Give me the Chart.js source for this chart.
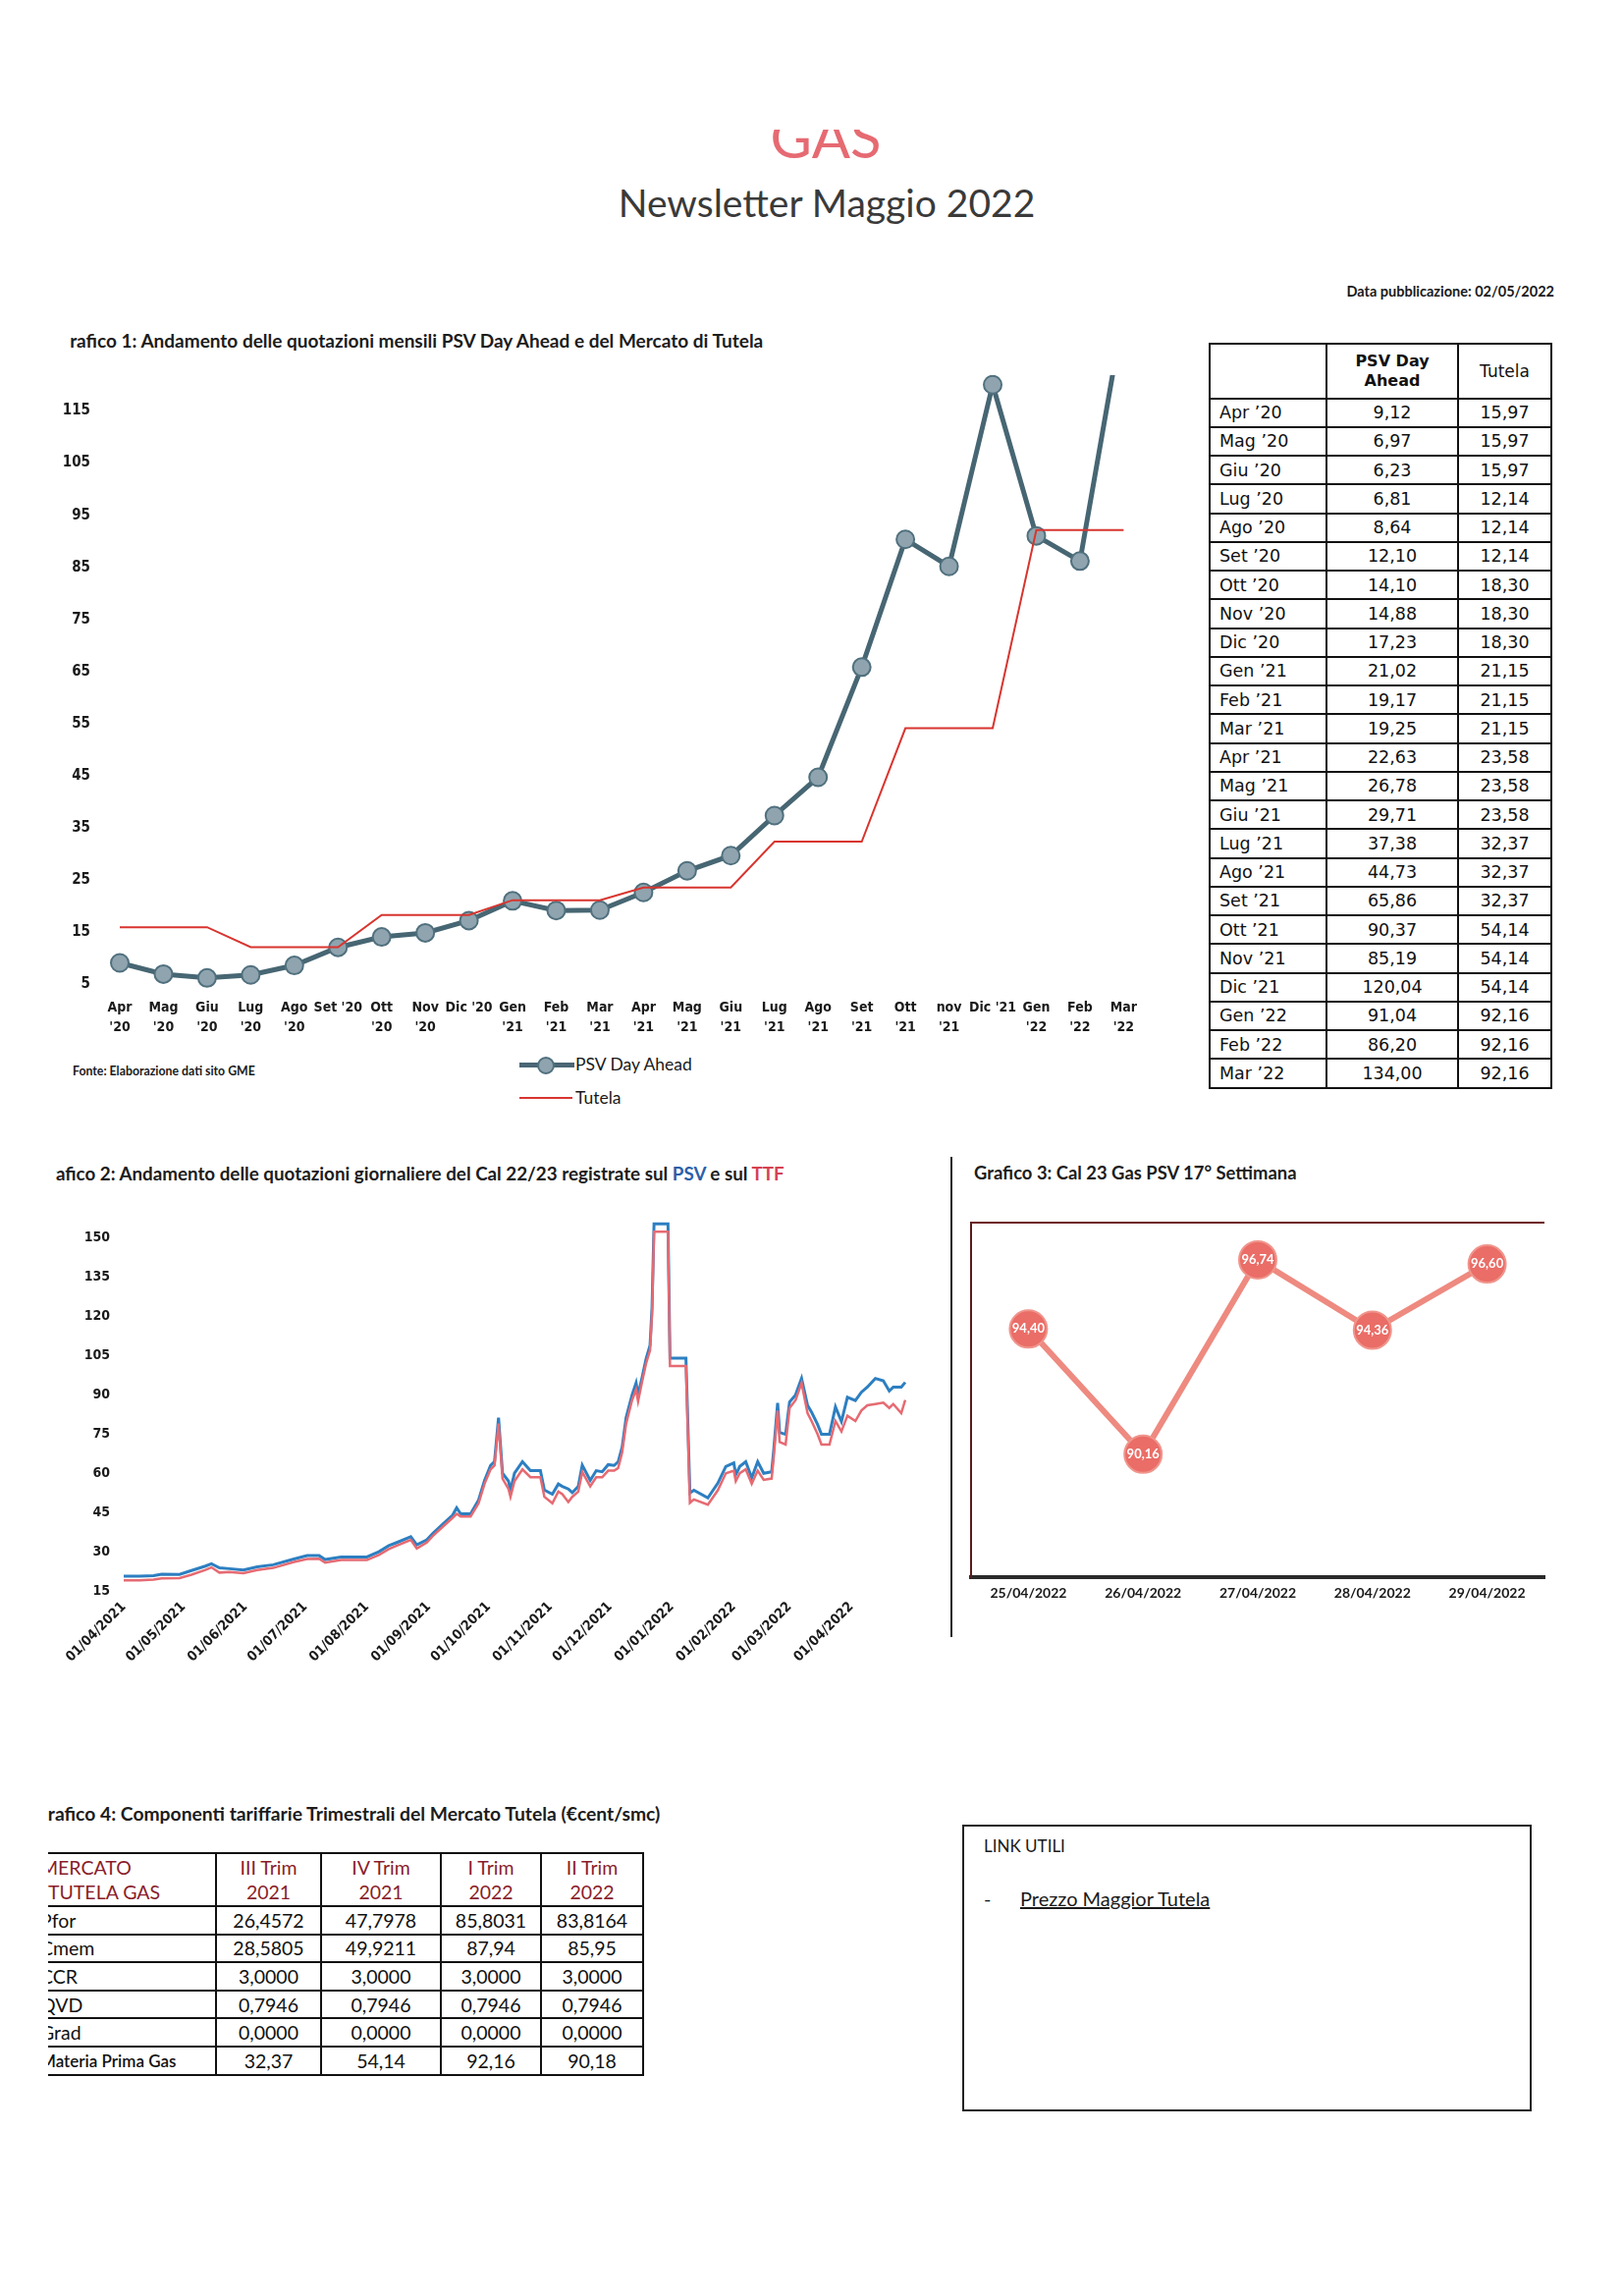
<!DOCTYPE html>
<html>
  <head>
    <meta charset="utf-8">
    <style type="text/css">
    body { margin: 0; background: #fff; }
    .page { position: relative; width: 1653px; height: 2338px; overflow: hidden; font-family: Lato, 'Noto Sans', sans-serif; color: #1a1a1a; }
    .abs { position: absolute; }
    .cut { position: absolute; overflow: hidden; white-space: nowrap; }
    .ttl { font-weight: 700; font-size: 19px; line-height: 23px; color: #1c1c1c; }
    canvas { position: absolute; }
    #tab1 { position: absolute; left: 1231px; top: 349px; border-collapse: collapse; font-family: 'DejaVu Sans', Verdana, sans-serif; font-size: 17.5px; color: #111; }
    #tab1 td, #tab1 th { border: 2px solid #111; padding: 0; height: 27.26px; }
    #tab1 th { font-weight: 600; font-size: 16px; line-height: 20px; height: 53.5px; }
    #tab1 td.m { text-align: left; padding-left: 9px; }
    #tab1 td.v { text-align: center; }
    #tab4 { position: absolute; left: 49px; top: 1886px; border-collapse: collapse; font-family: Lato, sans-serif; font-size: 19.5px; color: #111; }
    #tab4 td, #tab4 th { border: 2px solid #111; padding: 0; height: 26.6px; text-align: center; }
    #tab4 th { font-weight: 400; color: #8a1d2a; line-height: 25px; height: 52px; }
    #tab4 td:first-child, #tab4 th:first-child { border-left: none; text-align: left; }
    #tab4 .lc { overflow: hidden; white-space: nowrap; }
    #tab4 .lc span { margin-left: -8px; }
    </style>
  </head>
  <body>
    <script src="https://cdn.jsdelivr.net/npm/chart.js@4.4.1/dist/chart.umd.min.js"></script>

    <div class="page">
      <!-- intestazione -->
      <div class="cut" style="left:741px; top:132px; width:200px; height:29px;">
        <div class="abs" style="left:0; top:-22px; width:200px; text-align:center; font-size:58px; line-height:58px; color:#e66a72;">GAS</div>
      </div>
      <div class="abs" style="left:342px; top:183px; width:1000px; text-align:center; font-size:39px; line-height:47px; color:#3a3a3a;">Newsletter Maggio 2022</div>
      <div class="abs" style="left:1185px; top:288px; width:398px; text-align:right; font-size:14.5px; font-weight:700; white-space:nowrap;">Data pubblicazione: 02/05/2022</div>

      <!-- grafico 1 -->
      <div class="cut ttl" style="left:71px; top:335px; width:820px; height:26px;"><span style="margin-left:-13.5px;">Grafico 1: Andamento delle quotazioni mensili PSV Day Ahead e del Mercato di Tutela</span></div>
      <canvas id="c1" width="1122" height="717" style="left:39px; top:345px;"></canvas>
      <div class="abs" style="left:74px; top:1083px; font-size:12.3px; font-weight:700;">Fonte: Elaborazione dati sito GME</div>
      <div class="abs" style="left:529px; top:1082px; width:56px; height:5px; background:#4a6674;"></div>
      <div class="abs" style="left:547px; top:1076px; width:14px; height:14px; border-radius:50%; background:#8fa4af; border:2px solid #50707e;"></div>
      <div class="abs" style="left:586px; top:1073px; font-size:17.5px;">PSV Day Ahead</div>
      <div class="abs" style="left:529px; top:1117px; width:54px; height:2px; background:#d8352f;"></div>
      <div class="abs" style="left:586px; top:1107px; font-size:17.5px;">Tutela</div>
      <table id="tab1"></table>

      <!-- grafico 2 -->
      <div class="cut ttl" style="left:57px; top:1183px; width:760px; height:26px; font-size:18.8px;"><span style="margin-left:-20.5px;">Grafico 2: Andamento delle quotazioni giornaliere del Cal 22/23 registrate sul <span style="color:#2c5fa8;">PSV</span> e sul <span style="color:#d6414e;">TTF</span></span></div>
      <canvas id="c2" width="884" height="493" style="left:50px; top:1217px;"></canvas>

      <!-- grafico 3 -->
      <div class="abs" style="left:968px; top:1178px; width:2px; height:489px; background:#222;"></div>
      <div class="abs ttl" style="left:992px; top:1183px; font-size:18.4px;">Grafico 3: Cal 23 Gas PSV 17° Settimana</div>
      <canvas id="c3" width="610" height="417" style="left:981px; top:1230px;"></canvas>

      <!-- grafico 4 -->
      <div class="cut ttl" style="left:49px; top:1835px; width:720px; height:26px; font-size:19.3px;"><span style="margin-left:-14px;">Grafico 4: Componenti tariffarie Trimestrali del Mercato Tutela (€cent/smc)</span></div>
      <table id="tab4"></table>

      <!-- link utili -->
      <div class="abs" style="left:980px; top:1858px; width:576px; height:288px; border:2px solid #222;"></div>
      <div class="abs" style="left:1002px; top:1869px; font-size:17px;">LINK UTILI</div>
      <div class="abs" style="left:1002px; top:1921px; font-size:20px;">-</div>
      <div class="abs" style="left:1039px; top:1921px; font-size:20px; text-decoration:underline;">Prezzo Maggior Tutela</div>
    </div>

    <script>
      /* grafico 1 - quotazioni mensili */
      const monthRows = ["Apr ’20", "Mag ’20", "Giu ’20", "Lug ’20", "Ago ’20", "Set ’20", "Ott ’20", "Nov ’20", "Dic ’20",
        "Gen ’21", "Feb ’21", "Mar ’21", "Apr ’21", "Mag ’21", "Giu ’21", "Lug ’21", "Ago ’21", "Set ’21", "Ott ’21",
        "Nov ’21", "Dic ’21", "Gen ’22", "Feb ’22", "Mar ’22"];
      const c1TickLabels = [["Apr", "'20"], ["Mag", "'20"], ["Giu", "'20"], ["Lug", "'20"], ["Ago", "'20"], ["Set '20"],
        ["Ott", "'20"], ["Nov", "'20"], ["Dic '20"], ["Gen", "'21"], ["Feb", "'21"], ["Mar", "'21"], ["Apr", "'21"],
        ["Mag", "'21"], ["Giu", "'21"], ["Lug", "'21"], ["Ago", "'21"], ["Set", "'21"], ["Ott", "'21"], ["nov", "'21"],
        ["Dic '21"], ["Gen", "'22"], ["Feb", "'22"], ["Mar", "'22"]];
      const psvMonthly = [9.12, 6.97, 6.23, 6.81, 8.64, 12.10, 14.10, 14.88, 17.23, 21.02, 19.17, 19.25,
        22.63, 26.78, 29.71, 37.38, 44.73, 65.86, 90.37, 85.19, 120.04, 91.04, 86.20, 134.00];
      const tutelaMonthly = [15.97, 15.97, 15.97, 12.14, 12.14, 12.14, 18.30, 18.30, 18.30, 21.15, 21.15, 21.15,
        23.58, 23.58, 23.58, 32.37, 32.37, 32.37, 54.14, 54.14, 54.14, 92.16, 92.16, 92.16];
      const c1YTicks = [5, 15, 25, 35, 45, 55, 65, 75, 85, 95, 105, 115];

      /* grafico 2 - Cal 22/23 giornaliero */
      const cal23Dates = [
        '2021-04-01', '2021-04-09', '2021-04-16', '2021-04-20', '2021-04-29',
        '2021-05-05', '2021-05-12', '2021-05-15', '2021-05-19', '2021-05-24', '2021-05-31',
        '2021-06-07', '2021-06-15', '2021-06-25',
        '2021-07-02', '2021-07-08', '2021-07-11', '2021-07-19',
        '2021-08-01', '2021-08-07', '2021-08-12', '2021-08-16', '2021-08-23', '2021-08-26', '2021-08-31',
        '2021-09-03', '2021-09-08', '2021-09-13', '2021-09-15', '2021-09-17', '2021-09-22', '2021-09-26', '2021-09-29',
        '2021-10-02', '2021-10-04', '2021-10-06', '2021-10-08', '2021-10-11', '2021-10-12', '2021-10-14', '2021-10-18', '2021-10-22', '2021-10-27', '2021-10-29',
        '2021-11-02', '2021-11-05', '2021-11-07', '2021-11-10', '2021-11-12', '2021-11-15', '2021-11-17', '2021-11-21', '2021-11-24', '2021-11-27', '2021-11-30',
        '2021-12-03', '2021-12-05', '2021-12-07', '2021-12-09', '2021-12-12', '2021-12-14', '2021-12-15', '2021-12-17', '2021-12-19', '2021-12-21', '2021-12-22', '2021-12-23', '2021-12-30', '2021-12-31',
        '2022-01-08', '2022-01-10', '2022-01-12', '2022-01-19', '2022-01-24', '2022-01-28',
        '2022-02-01', '2022-02-02', '2022-02-04', '2022-02-07', '2022-02-10', '2022-02-13', '2022-02-16', '2022-02-20', '2022-02-21', '2022-02-23', '2022-02-24', '2022-02-27',
        '2022-03-01', '2022-03-04', '2022-03-07', '2022-03-10', '2022-03-12', '2022-03-15', '2022-03-17', '2022-03-21', '2022-03-24', '2022-03-27', '2022-03-30',
        '2022-04-03', '2022-04-06', '2022-04-09', '2022-04-13', '2022-04-17', '2022-04-20', '2022-04-22', '2022-04-26', '2022-04-28'];
      const cal23Psv = [
        20.6, 20.6, 20.8, 21.4, 21.3,
        22.8, 24.5, 25.4, 23.8, 23.5, 23.0,
        24.2, 25.0, 27.1,
        28.5, 28.5, 27.0, 28.0,
        28.0, 30.0, 32.3, 33.5, 35.7, 32.6, 34.5,
        37.0, 40.5, 44.0, 46.8, 44.5, 44.5, 49.8, 57.3,
        63.0, 64.5, 81.3, 60.0, 57.0, 53.5, 60.0, 64.4, 61.0, 61.0, 53.6,
        52.0, 55.9, 55.0, 54.0, 52.6, 55.0, 63.1, 57.3, 61.0, 60.6, 63.3,
        63.0, 64.4, 70.0, 81.3, 90.0, 94.6, 90.0, 96.6, 103.7, 109.0, 123.6, 155.4, 155.4, 104.0,
        104.0, 52.5, 53.5, 50.6, 56.2, 62.6,
        64.0, 59.5, 62.6, 64.4, 58.3, 64.4, 60.0, 60.6, 68.6, 86.9, 75.6, 74.9,
        87.3, 90.0, 96.3, 86.0, 83.4, 78.7, 74.9, 74.9, 85.4, 79.8, 89.1,
        87.8, 91.0, 93.0, 96.3, 95.4, 91.5, 93.0, 93.0, 94.8];
      const cal23Ttf = [
        19.0, 19.0, 19.3, 19.8, 19.9,
        21.2, 23.0, 24.0, 22.0, 22.2, 21.8,
        23.0, 23.8, 26.0,
        27.2, 27.3, 25.8, 26.8,
        26.8, 28.8, 31.0, 32.3, 34.5, 31.2, 33.5,
        36.0, 39.5, 43.0, 44.5, 43.5, 43.5, 48.5, 56.0,
        61.5, 63.0, 79.0, 58.0, 54.0, 51.0, 57.0, 61.5, 58.5, 58.5, 51.0,
        48.5, 53.0, 52.0, 49.0, 51.0, 53.0, 60.5, 55.0, 58.5, 58.5, 61.0,
        61.0, 62.0, 68.0, 79.0, 88.0, 92.0, 87.5, 95.0, 102.0, 107.0, 121.0, 152.4, 152.4, 101.0,
        101.0, 48.7, 50.0, 48.0, 53.5, 60.0,
        61.0, 57.0, 60.0, 61.5, 56.0, 61.0, 57.5, 58.0, 66.0, 84.0, 72.0, 71.0,
        85.0, 88.0, 94.5, 83.0, 80.0, 75.0, 71.0, 71.0, 80.0, 76.0, 82.0,
        80.0, 84.0, 86.0, 86.5, 87.0, 85.0, 86.5, 83.0, 88.0];
      const c2TickDates = ['2021-04-01', '2021-05-01', '2021-06-01', '2021-07-01', '2021-08-01', '2021-09-01', '2021-10-01',
        '2021-11-01', '2021-12-01', '2022-01-01', '2022-02-01', '2022-03-01', '2022-04-01'];
      const c2YTicks = [15, 30, 45, 60, 75, 90, 105, 120, 135, 150];

      /* grafico 3 - settimana 17 */
      const weekDays = ['25/04/2022', '26/04/2022', '27/04/2022', '28/04/2022', '29/04/2022'];
      const weekPsv = [94.40, 90.16, 96.74, 94.36, 96.60];

      /* grafico 4 - componenti tariffarie */
      const quarterHead = [['III Trim', '2021'], ['IV Trim', '2021'], ['I Trim', '2022'], ['II Trim', '2022']];
      const compNames = ['Pfor', 'Cmem', 'CCR', 'QVD', 'Grad', 'Materia Prima Gas'];
      const compValues = [
        ['26,4572', '47,7978', '85,8031', '83,8164'],
        ['28,5805', '49,9211', '87,94', '85,95'],
        ['3,0000', '3,0000', '3,0000', '3,0000'],
        ['0,7946', '0,7946', '0,7946', '0,7946'],
        ['0,0000', '0,0000', '0,0000', '0,0000'],
        ['32,37', '54,14', '92,16', '90,18']];

      const comma = (v) => v.toFixed(2).replace('.', ',');
      const narrow = "'Liberation Sans Narrow', 'DejaVu Sans Condensed', sans-serif";

      /* tabella grafico 1 */
      let h1 = '<tr><th style="width:117px"></th><th style="width:132px">PSV Day<br>Ahead</th><th style="width:93px; font-size:17px; font-weight:500">Tutela</th></tr>';
      monthRows.forEach((m, i) => {
        h1 += '<tr><td class="m">' + m + '</td><td class="v">' + comma(psvMonthly[i]) + '</td><td class="v">' + comma(tutelaMonthly[i]) + '</td></tr>';
      });
      document.getElementById('tab1').innerHTML = h1;

      /* tabella grafico 4 */
      let h4 = '<tr><th style="width:170px"><div class="lc"><span>MERCATO<br>TUTELA GAS</span></div></th>';
      const colW = [105, 120, 100, 102];
      quarterHead.forEach((q, i) => { h4 += '<th style="width:' + colW[i] + 'px">' + q[0] + '<br>' + q[1] + '</th>'; });
      h4 += '</tr>';
      compNames.forEach((n, r) => {
        const small = n.length > 6 ? ' style="font-size:17px; font-weight:600"' : '';
        h4 += '<tr><td' + small + '><div class="lc"><span>' + n + '</span></div></td>';
        compValues[r].forEach(v => { h4 += '<td>' + v + '</td>'; });
        h4 += '</tr>';
      });
      document.getElementById('tab4').innerHTML = h4;

      /* chart 1 */
      const chart1 = new Chart('c1', {
        type: 'line',
        data: {
          labels: c1TickLabels,
          datasets: [{
            label: 'Tutela',
            data: tutelaMonthly,
            borderColor: '#d8352f',
            borderWidth: 2,
            pointRadius: 0,
            tension: 0,
            order: 0,
            clip: {left: 12, right: 12, top: 2, bottom: 12}
          }, {
            label: 'PSV Day Ahead',
            data: psvMonthly,
            borderColor: '#476673',
            borderWidth: 5,
            pointRadius: 9,
            pointBackgroundColor: '#8fa4af',
            pointBorderColor: '#50707e',
            pointBorderWidth: 2,
            tension: 0,
            order: 1,
            clip: {left: 12, right: 12, top: 2, bottom: 12}
          }]
        },
        options: {
          responsive: false,
          animation: false,
          layout: {padding: {top: 0, right: 16}},
          plugins: {legend: {display: false}, tooltip: {enabled: false}},
          scales: {
            x: {
              grid: {display: false, drawTicks: false},
              border: {display: false},
              ticks: {autoSkip: false, maxRotation: 0, color: '#1a1a1a', padding: 3,
                font: {family: narrow, size: 14, weight: 'bold', lineHeight: 1.45}},
              afterFit: (s) => { s.height = 49; }
            },
            y: {
              min: 3,
              max: 121.5,
              grid: {display: false, drawTicks: false},
              border: {display: false},
              afterBuildTicks: (s) => { s.ticks = c1YTicks.map(v => ({value: v})); },
              ticks: {color: '#1a1a1a', padding: 30, font: {family: narrow, size: 15, weight: 'bold'}},
              afterFit: (s) => { s.width = 83; }
            }
          }
        }
      });

      /* chart 2 */
      const day0 = Date.parse('2021-04-01');
      const toDay = (d) => Math.round((Date.parse(d) - day0) / 864e5);
      const tickDays = c2TickDates.map(toDay);
      const chart2 = new Chart('c2', {
        type: 'line',
        data: {
          datasets: [{
            label: 'PSV',
            data: cal23Dates.map((d, i) => ({x: toDay(d), y: cal23Psv[i]})),
            borderColor: '#2d7fc1',
            borderWidth: 3,
            pointRadius: 0,
            tension: 0,
            order: 1
          }, {
            label: 'TTF',
            data: cal23Dates.map((d, i) => ({x: toDay(d), y: cal23Ttf[i]})),
            borderColor: '#e66a72',
            borderWidth: 2.5,
            pointRadius: 0,
            tension: 0,
            order: 0
          }]
        },
        options: {
          responsive: false,
          animation: false,
          layout: {padding: {top: 0, right: 10}},
          plugins: {legend: {display: false}, tooltip: {enabled: false}},
          scales: {
            x: {
              type: 'linear',
              min: 0,
              max: 393,
              grid: {display: false, drawTicks: false},
              border: {display: false},
              afterBuildTicks: (s) => { s.ticks = tickDays.map(v => ({value: v})); },
              ticks: {
                minRotation: 45, maxRotation: 45, padding: 8, color: '#1a1a1a',
                font: {family: narrow, size: 14, weight: 'bold'},
                callback: (v) => { const i = tickDays.indexOf(v); return i < 0 ? '' : c2TickDates[i].split('-').reverse().join('/'); }
              },
              afterFit: (s) => { s.height = 90; }
            },
            y: {
              min: 15,
              max: 158,
              grid: {display: false, drawTicks: false},
              border: {display: false},
              afterBuildTicks: (s) => { s.ticks = c2YTicks.map(v => ({value: v})); },
              ticks: {color: '#1a1a1a', padding: 14, font: {family: narrow, size: 14, weight: 'bold'}},
              afterFit: (s) => { s.width = 76; }
            }
          }
        }
      });

      /* chart 3: etichette nei punti e bordo superiore */
      const pointLabels = {
        id: 'pointLabels',
        afterDatasetsDraw(chart) {
          const ctx = chart.ctx;
          const meta = chart.getDatasetMeta(0);
          ctx.save();
          ctx.fillStyle = '#fff';
          ctx.font = 'bold 13px Lato, sans-serif';
          ctx.textAlign = 'center';
          ctx.textBaseline = 'middle';
          meta.data.forEach((el, i) => { ctx.fillText(comma(weekPsv[i]), el.x, el.y); });
          ctx.restore();
        },
        afterDraw(chart) {
          const a = chart.chartArea, ctx = chart.ctx;
          ctx.save();
          ctx.strokeStyle = '#6e1f22';
          ctx.lineWidth = 2;
          ctx.beginPath();
          ctx.moveTo(a.left, a.top);
          ctx.lineTo(a.right, a.top);
          ctx.stroke();
          ctx.restore();
        }
      };

      const chart3 = new Chart('c3', {
        type: 'line',
        data: {
          labels: weekDays,
          datasets: [{
            label: 'Cal 23 PSV',
            data: weekPsv,
            borderColor: '#ee8a80',
            borderWidth: 6,
            pointRadius: 19,
            pointBackgroundColor: '#ea6d67',
            pointBorderColor: '#f0958c',
            pointBorderWidth: 2,
            tension: 0,
            clip: false
          }]
        },
        plugins: [pointLabels],
        options: {
          responsive: false,
          animation: false,
          layout: {autoPadding: false, padding: {top: 15, right: 18}},
          plugins: {legend: {display: false}, tooltip: {enabled: false}},
          scales: {
            x: {
              offset: true,
              grid: {display: false, drawTicks: false},
              border: {display: true, color: '#2a2a2a', width: 4},
              ticks: {color: '#1a1a1a', padding: 8, font: {family: 'Lato, sans-serif', size: 14, weight: 'bold'}},
              afterFit: (s) => { s.height = 41; }
            },
            y: {
              min: 86,
              max: 98,
              grid: {display: false, drawTicks: false},
              border: {display: true, color: '#5a1c1e', width: 2},
              ticks: {display: false},
              afterFit: (s) => { s.width = 8; }
            }
          }
        }
      });
    </script>
  </body>
</html>
